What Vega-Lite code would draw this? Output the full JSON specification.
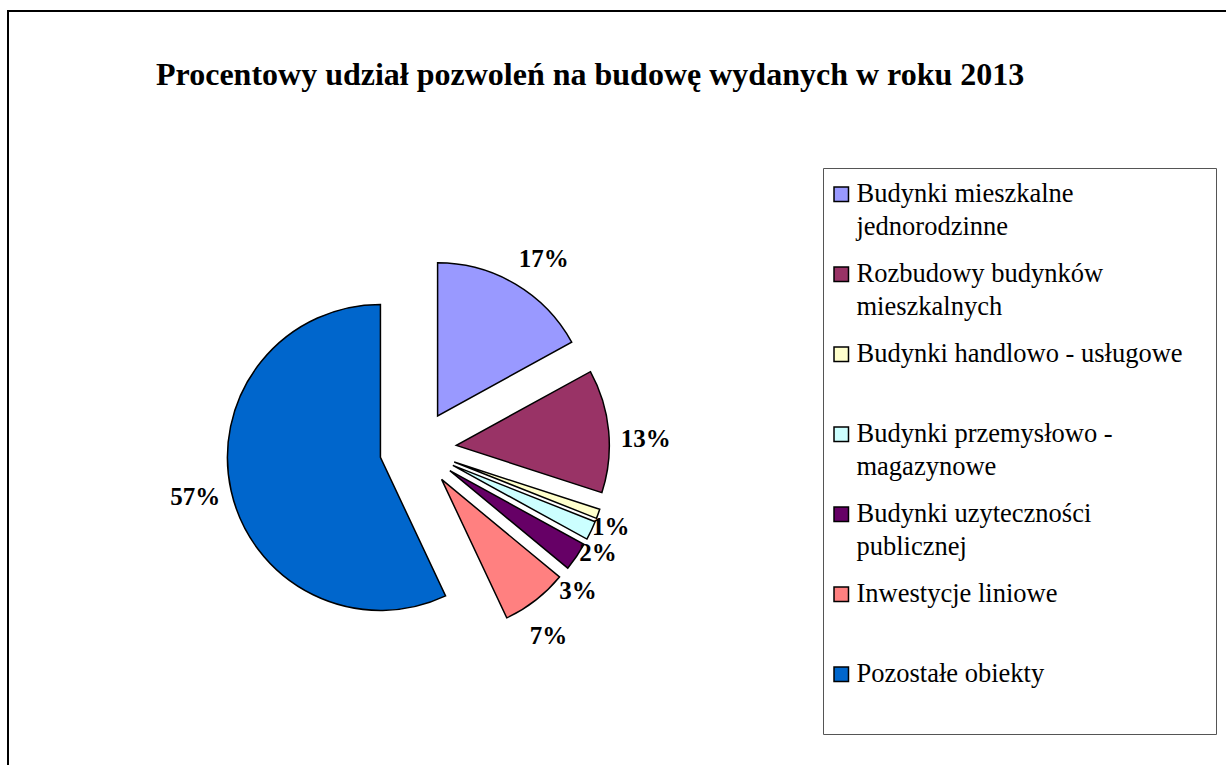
{
  "$schema": "https://vega.github.io/schema/vega-lite/v6.json",
  "width": 1240,
  "height": 754,
  "autosize": {"type": "none"},
  "padding": {"left": 8, "top": 11, "right": -22, "bottom": 0},
  "background": "white",
  "view": {"stroke": "#000", "strokeWidth": 2, "fill": "white", "strokeDash": [1240, 1994, 754, 10]},
  "config": {
    "view": {"stroke": "#000", "strokeWidth": 2},
    "font": "Liberation Serif"
  },
  "title": {
    "text": "Procentowy udział pozwoleń na budowę wydanych w roku 2013",
    "font": "Liberation Serif",
    "fontSize": 32,
    "fontWeight": "bold",
    "color": "#000",
    "anchor": "start",
    "frame": "group",
    "orient": "top",
    "offset": 0,
    "dx": 148,
    "dy": 106,
    "baseline": "alphabetic"
  },
  "data": {
    "values": [
      {"n": 1, "cat": "Budynki mieszkalne jednorodzinne", "pct": 17},
      {"n": 2, "cat": "Rozbudowy budynków mieszkalnych", "pct": 13},
      {"n": 3, "cat": "Budynki handlowo - usługowe", "pct": 1},
      {"n": 4, "cat": "Budynki przemysłowo - magazynowe", "pct": 2},
      {"n": 5, "cat": "Budynki uzyteczności publicznej", "pct": 3},
      {"n": 6, "cat": "Inwestycje liniowe", "pct": 7},
      {"n": 7, "cat": "Pozostałe obiekty", "pct": 57}
    ]
  },
  "encoding": {
    "theta": {"field": "pct", "type": "quantitative", "stack": true},
    "order": {"field": "n", "type": "quantitative"}
  },
  "layer": [
    {
      "mark": {
        "type": "arc",
        "x": 410,
        "y": 438,
        "outerRadius": 153,
        "stroke": "#000",
        "strokeWidth": 1.5,
        "strokeJoin": "miter",
        "xOffset": {"expr": "38.5*sin((datum.pct_start+datum.pct_end)*PI/100)"},
        "yOffset": {"expr": "-38.5*cos((datum.pct_start+datum.pct_end)*PI/100)"}
      },
      "encoding": {
        "color": {
          "field": "cat",
          "type": "nominal",
          "scale": {
            "domain": [
              "Budynki mieszkalne jednorodzinne",
              "Rozbudowy budynków mieszkalnych",
              "Budynki handlowo - usługowe",
              "Budynki przemysłowo - magazynowe",
              "Budynki uzyteczności publicznej",
              "Inwestycje liniowe",
              "Pozostałe obiekty"
            ],
            "range": ["#9999FF", "#993366", "#FFFFCC", "#CCFFFF", "#660066", "#FF8080", "#0066CC"]
          },
          "legend": {
            "orient": "none",
            "legendX": 815,
            "legendY": 157,
            "title": null,
            "strokeColor": "#555",
            "fillColor": "white",
            "padding": 13,
            "symbolType": "M-1,-1H1V1H-1Z M49.5,0",
            "symbolSize": 210,
            "symbolOffset": -8,
            "symbolStrokeColor": "#000",
            "symbolStrokeWidth": 1.5,
            "symbolOpacity": 1,
            "labelFont": "Liberation Serif",
            "labelFontSize": 26.5,
            "labelColor": "#000",
            "labelLimit": 450,
            "labelOffset": 2,
            "labelBaseline": "middle",
            "rowPadding": 20,
            "labelExpr": "datum.label === 'Budynki mieszkalne jednorodzinne' ? ['Budynki mieszkalne', 'jednorodzinne'] : datum.label === 'Rozbudowy budynków mieszkalnych' ? ['Rozbudowy budynków', 'mieszkalnych'] : datum.label === 'Budynki przemysłowo - magazynowe' ? ['Budynki przemysłowo -', 'magazynowe'] : datum.label === 'Budynki uzyteczności publicznej' ? ['Budynki uzyteczności', 'publicznej'] : [datum.label, ' ']",
            "encode": {
              "labels": {"update": {"lineHeight": {"value": 33}}}
            }
          }
        }
      }
    },
    {
      "transform": [{"calculate": "datum.pct + '%'", "as": "label"}],
      "mark": {
        "type": "text",
        "x": 410,
        "y": 438,
        "radius": {"expr": "datum.pct <= 2 ? 208 : datum.pct <= 3 ? 214 : 228"},
        "thetaOffset": {"expr": "datum.pct <= 3 ? 0.04 + 0.045*(datum.pct - 1) : datum.pct > 50 ? 0.007 : 0.05"},
        "font": "Liberation Serif",
        "fontSize": 25,
        "fontWeight": "bold",
        "color": "#000",
        "align": "center",
        "baseline": "middle"
      },
      "encoding": {
        "text": {"field": "label", "type": "nominal"}
      }
    }
  ]
}
